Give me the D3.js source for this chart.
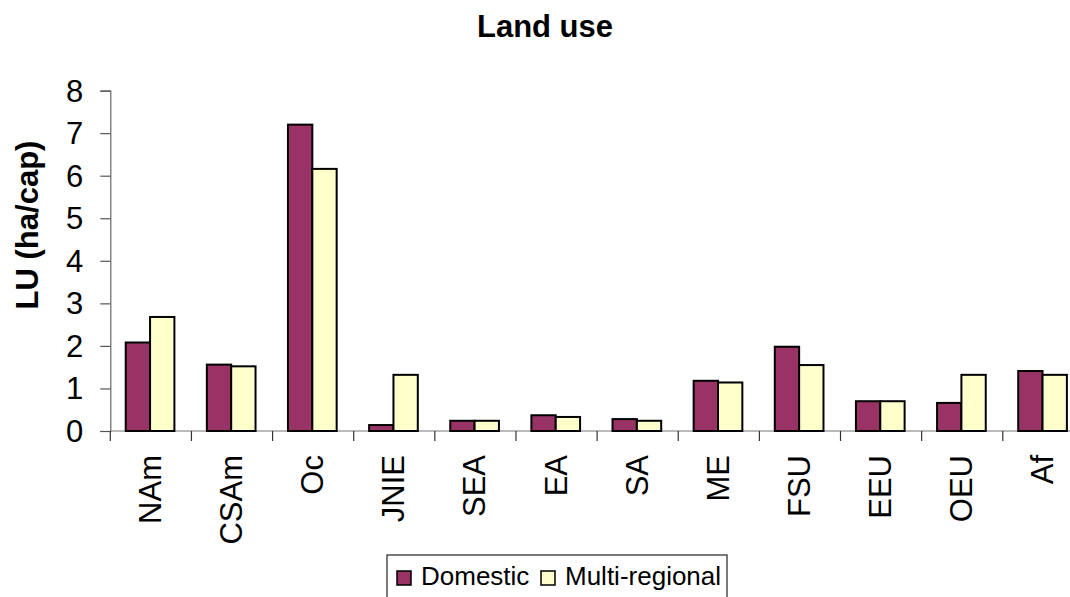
<!DOCTYPE html>
<html>
<head>
<meta charset="utf-8">
<script src="https://cdn.jsdelivr.net/npm/d3@7"></script>
<style>
html,body{margin:0;padding:0;background:#fff;}
svg{display:block;font-family:"Liberation Sans",Arial,sans-serif;}
</style>
</head>
<body>
<svg id="chart" width="1070" height="597"></svg>
<script>
const categories = ["NAm","CSAm","Oc","JNIE","SEA","EA","SA","ME","FSU","EEU","OEU","Af"];
const domestic = [2.08,1.56,7.2,0.14,0.24,0.37,0.28,1.18,1.98,0.7,0.66,1.41];
const multiRegional = [2.68,1.52,6.16,1.32,0.24,0.33,0.24,1.14,1.55,0.7,1.32,1.32];
const seriesNames = ["Domestic","Multi-regional"];
const seriesColors = ["#993366","#FFFFCC"];
const yTicks = [0,1,2,3,4,5,6,7,8];

const svg = d3.select("#chart");

const x = d3.scaleBand().domain(categories).range([110.3,1082.3]).paddingInner(0.4).paddingOuter(0.19);
const x1 = d3.scaleBand().domain(seriesNames).range([0,x.bandwidth()]);
const y = d3.scaleLinear().domain([0,8]).range([431,90.6]);

// Title
svg.append("text").attr("x",545).attr("y",37).attr("text-anchor","middle")
  .attr("font-size",31).attr("font-weight","bold").text("Land use");

// Y label
svg.append("text").attr("transform","translate(38,225) rotate(-90)").attr("text-anchor","middle")
  .attr("font-size",31).attr("font-weight","bold").text("LU (ha/cap)");

// Y axis
const yAxis = svg.append("g").attr("transform","translate(110.3,0)")
  .call(d3.axisLeft(y).tickValues(yTicks).tickSize(10).tickPadding(17).tickFormat(d3.format("d")));
yAxis.attr("font-size",null).attr("font-family",null);
yAxis.select(".domain").attr("stroke","#666").attr("stroke-width",1.2);
yAxis.selectAll(".tick line").attr("stroke","#555").attr("stroke-width",1.2);
yAxis.selectAll("text").style("font-size","31px").attr("fill","#000").attr("dy","0.34em");

// X axis baseline & category ticks
const xAxis = svg.append("g").attr("transform",`translate(0,${y(0)})`);
xAxis.append("line").attr("x1",110.3).attr("x2",1082.3).attr("y1",0).attr("y2",0)
  .attr("stroke","#777").attr("stroke-width",1.2);
const boundaries = categories.map(c => x(c) - x.step()*x.paddingOuter()).concat([1082.3]);
xAxis.selectAll("line.tk").data(boundaries).join("line").attr("class","tk")
  .attr("x1",d=>d).attr("x2",d=>d).attr("y1",0).attr("y2",10)
  .attr("stroke","#333").attr("stroke-width",1.2);
xAxis.selectAll("text.cat").data(categories).join("text").attr("class","cat")
  .attr("transform",d=>`translate(${x(d)+x.bandwidth()/2},24) rotate(-90)`)
  .attr("text-anchor","end").attr("dy","0.35em").attr("font-size",31).text(d=>d);

// Bars
const seriesData = [domestic, multiRegional];
seriesData.forEach((vals,si)=>{
  svg.append("g").selectAll("rect").data(vals).join("rect")
    .attr("x",(d,i)=>x(categories[i]) + x1(seriesNames[si]))
    .attr("width",x1.bandwidth())
    .attr("y",d=>y(d))
    .attr("height",d=>y(0)-y(d))
    .attr("fill",seriesColors[si])
    .attr("stroke","#000").attr("stroke-width",2);
});

// Legend
const lg = svg.append("g");
lg.append("rect").attr("x",387).attr("y",555).attr("width",340).attr("height",60)
  .attr("fill","#fff").attr("stroke","#222").attr("stroke-width",1.2);
const legendItems = [{name:seriesNames[0],color:seriesColors[0],sx:397,tx:421},
                     {name:seriesNames[1],color:seriesColors[1],sx:541,tx:565}];
legendItems.forEach(it=>{
  lg.append("rect").attr("x",it.sx).attr("y",571).attr("width",14).attr("height",14)
    .attr("fill",it.color).attr("stroke","#000").attr("stroke-width",1.5);
  lg.append("text").attr("x",it.tx).attr("y",585).attr("font-size",26).text(it.name);
});
</script>
</body>
</html>
